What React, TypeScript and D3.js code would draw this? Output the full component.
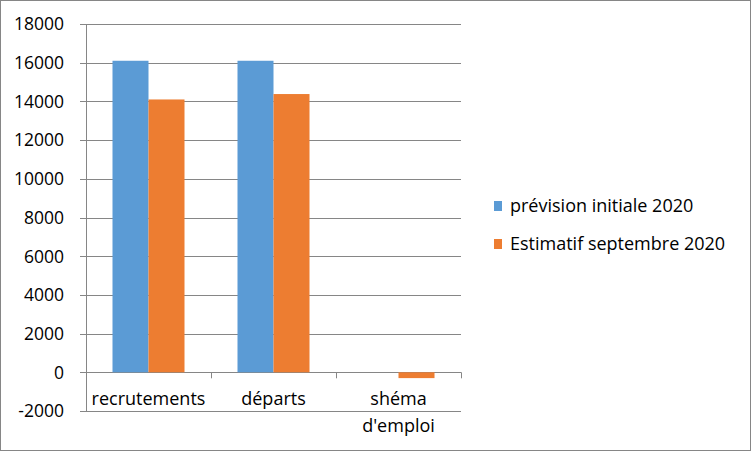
import React from "react";
import * as d3 from "d3";

const categories = ["recrutements", "départs", "shéma d'emploi"];
const categoryLines = [["recrutements"], ["départs"], ["shéma", "d'emploi"]];
const seriesNames = ["prévision initiale 2020", "Estimatif septembre 2020"];
const prevision = [16100, 16100, 0];
const estimatif = [14100, 14380, -300];
const yTicks = [-2000, 0, 2000, 4000, 6000, 8000, 10000, 12000, 14000, 16000, 18000];
const colors = ["#5B9BD5", "#ED7D31"];

const W = 751;
const H = 451;
const plot = { left: 86, right: 461, top: 24, bottom: 411 };
const FONT = "'Open Sans', sans-serif";

export default function App() {
  const y = d3.scaleLinear().domain([-2000, 18000]).range([plot.bottom, plot.top]);
  const x = d3.scaleBand<string>().domain(categories).range([plot.left, plot.right]).paddingInner(0).paddingOuter(0);
  const inner = d3.scaleBand<number>().domain([0, 1]).range([0, x.bandwidth()]).paddingInner(0).paddingOuter(0.736);
  const series = [prevision, estimatif];
  const grid = "#868686";
  return (
    <svg width={W} height={H} style={{ position: "absolute", left: 0, top: 0, background: "#fff" }} fontFamily={FONT}>
      <rect x={0.5} y={0.5} width={W - 1} height={H - 1} fill="#fff" stroke="#868686" />
      {yTicks.map((t) => (
        <g key={t}>
          <line x1={80} x2={plot.right} y1={Math.round(y(t)) + 0.5} y2={Math.round(y(t)) + 0.5} stroke={grid} strokeWidth={1} />
          <text x={64} y={y(t)} dy="0.36em" textAnchor="end" fontSize={17.5} fill="#000">{t}</text>
        </g>
      ))}
      {series.map((vals, si) =>
        categories.map((c, ci) => {
          const v = vals[ci];
          const bx = (x(c) as number) + (inner(si) as number);
          const y0 = y(0);
          const y1 = y(v);
          return (
            <rect key={si + "-" + ci} x={bx} width={inner.bandwidth()} y={Math.min(y0, y1)} height={Math.abs(y1 - y0)} fill={colors[si]} />
          );
        })
      )}
      <line x1={plot.left + 0.5} x2={plot.left + 0.5} y1={plot.top} y2={plot.bottom} stroke={grid} />
      {categories.map((c) => (
        <line key={c} x1={Math.round((x(c) as number) + x.bandwidth()) + 0.5} x2={Math.round((x(c) as number) + x.bandwidth()) + 0.5} y1={y(0)} y2={y(0) + 6} stroke={grid} />
      ))}
      {categories.map((c, i) => (
        <text key={c} x={(x(c) as number) + x.bandwidth() / 2} y={405} textAnchor="middle" fontSize={18} fill="#000">
          {categoryLines[i].map((l, li) => (
            <tspan key={li} x={(x(c) as number) + x.bandwidth() / 2} dy={li === 0 ? 0 : 27}>{l}</tspan>
          ))}
        </text>
      ))}
      {seriesNames.map((n, i) => (
        <g key={n} transform={`translate(494, ${212 + i * 38})`}>
          <rect x={0} y={-11} width={8} height={10} fill={colors[i]} />
          <text x={16} y={0} fontSize={18} fill="#000">{n}</text>
        </g>
      ))}
    </svg>
  );
}
